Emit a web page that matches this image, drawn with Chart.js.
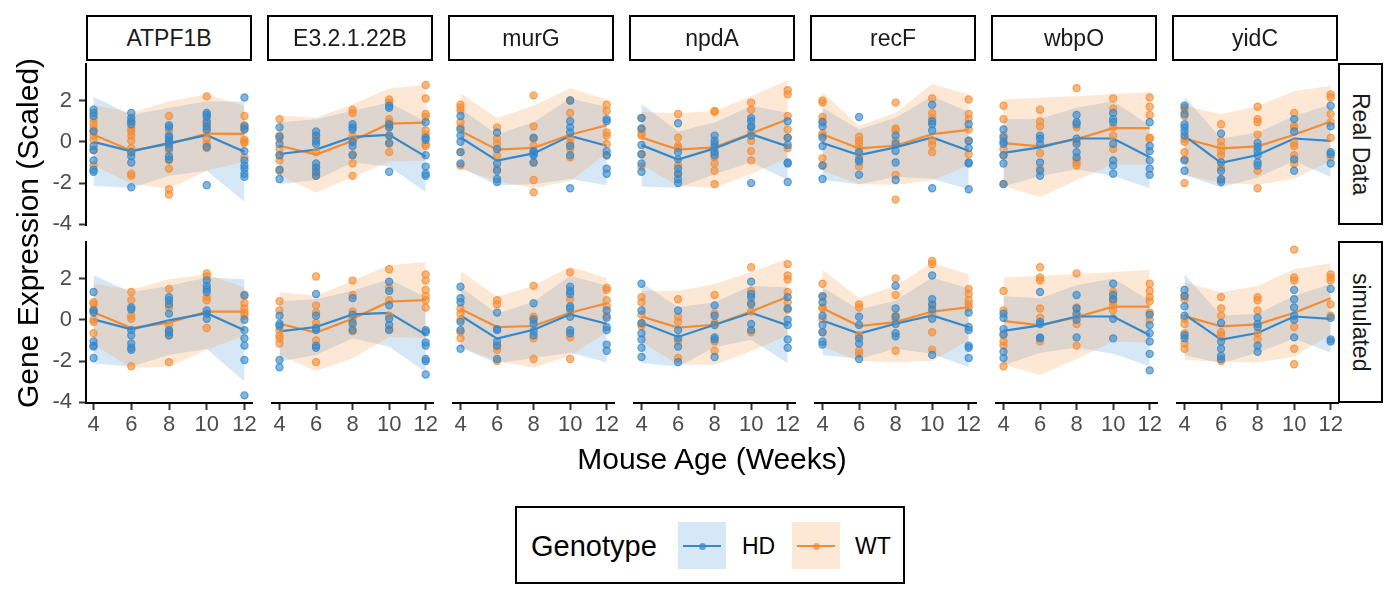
<!DOCTYPE html>
<html><head><meta charset="utf-8">
<script src="https://cdn.jsdelivr.net/npm/chart.js@4.4.1/dist/chart.umd.min.js"></script>
<style>
html,body{margin:0;padding:0;background:#fff;}
body{width:1400px;height:600px;position:relative;overflow:hidden;font-family:"Liberation Sans",Arial,Helvetica,sans-serif;}
canvas{position:absolute;}
.strip{position:absolute;box-sizing:border-box;border:2px solid #000;background:#fff;display:flex;align-items:center;justify-content:center;font-size:23px;color:#1a1a1a;}
.vtext{writing-mode:vertical-rl;}
.title{position:absolute;font-size:30px;color:#000;text-align:center;white-space:nowrap;}
#legend{position:absolute;left:515px;top:506px;width:390px;height:78px;box-sizing:border-box;border:2px solid #000;background:#fff;}
#legend div{position:absolute;}
</style></head><body>
<script>
// ---------------- data ----------------
const genes = ["ATPF1B", "E3.2.1.22B", "murG", "npdA", "recF", "wbpO", "yidC"];
const rowLabels = ["Real Data", "simulated"];
const genotypes = ["HD", "WT"];
const ages = [4, 6, 8, 10, 12];
const xTicks = [4, 6, 8, 10, 12];
const yTicks = [-4, -2, 0, 2];
const xTitle = "Mouse Age (Weeks)";
const yTitle = "Gene Expression (Scaled)";
const legendTitle = "Genotype";

// ---- Real Data ----
const ATPF1B_real_HD = [[1.55,1.4,1.25,0.5,-0.2,-0.4,-0.9,-1.35,-1.45],[1.4,1.15,1.0,0.85,-0.5,-0.7,-1.0,-2.2],[0.8,0.7,0.3,0.2,0.05,-0.1,-0.3,-0.7,-0.85],[1.4,1.3,1.2,0.95,0.75,0.6,-0.25,-2.1],[2.15,0.75,0.6,-0.45,-0.9,-1.15,-1.3,-1.55,-1.7]];
const ATPF1B_real_HD_mean = [0.0,-0.46,-0.06,0.32,-0.48];
const ATPF1B_real_HD_lo = [-2.14,-2.24,-1.65,-1.4,-2.9];
const ATPF1B_real_HD_hi = [2.18,1.3,1.65,1.97,1.94];
const ATPF1B_real_WT = [[1.1,0.9,0.7,0.55,0.3,0.1,-0.4,-1.15],[0.95,0.65,0.5,0.3,0.05,-0.3,-0.5,-1.55,-1.65],[1.25,0.55,-0.1,-0.45,-0.9,-1.3,-2.3,-2.55],[2.2,1.0,0.85,0.55,0.15,-0.1,-0.3],[1.25,0.8,0.65,0.1,0.0,-0.05,-0.75]];
const ATPF1B_real_WT_mean = [0.34,-0.43,-0.11,0.4,0.38];
const ATPF1B_real_WT_lo = [-1.15,-2.03,-2.27,-1.4,-0.95];
const ATPF1B_real_WT_hi = [1.8,1.41,1.97,2.29,1.73];

const E3_real_HD = [[0.7,0.25,-0.1,-0.65,-1.35,-1.8],[0.5,0.3,0.05,-0.1,-1.05,-1.25,-1.45,-1.65],[0.85,0.7,0.6,0.0,-0.2,-0.65],[1.75,1.65,0.85,0.7,0.3,-0.05,-1.45],[0.95,0.2,0.1,-0.65,-1.2,-1.55,-1.65]];
const E3_real_HD_mean = [-0.59,-0.38,0.24,0.34,-0.72];
const E3_real_HD_lo = [-2.05,-1.85,-1.0,-1.2,-2.43];
const E3_real_HD_hi = [0.93,1.09,1.5,1.9,0.99];
const E3_real_WT = [[1.1,0.3,0.15,-0.35,-0.65,-0.9,-1.4],[0.3,0.15,-0.5,-1.25,-1.5,-1.65],[1.55,1.4,0.3,0.0,-0.6,-1.05,-1.65],[2.05,1.9,1.1,0.95,0.7,0.3,-0.1,-0.5],[2.75,2.1,1.35,1.2,0.55,0.35,-0.1,-0.2]];
const E3_real_WT_mean = [-0.19,-0.62,0.05,0.88,0.93];
const E3_real_WT_lo = [-1.63,-2.46,-1.71,-0.96,-0.91];
const E3_real_WT_hi = [1.28,1.17,1.81,2.58,2.77];

const murG_real_HD = [[1.25,0.6,0.3,0.0,-0.5,-1.05],[0.45,-0.35,-1.05,-1.4,-1.8,-1.95],[0.2,-0.45,-0.5,-0.6,-0.65,-1.0],[2.0,1.0,0.7,0.45,-0.2,-0.65,-2.25],[1.1,1.0,-0.45,-0.65,-1.3,-1.55]];
const murG_real_HD_mean = [0.21,-0.91,-0.56,0.29,-0.19];
const murG_real_HD_lo = [-1.25,-2.1,-2.05,-1.8,-2.1];
const murG_real_HD_hi = [1.6,0.35,0.95,2.1,1.7];
const murG_real_WT = [[1.8,1.65,1.5,0.95,0.7,-0.5,-1.15],[0.7,0.15,-0.1,-0.65,-1.3],[2.25,0.75,0.15,-0.2,-1.0,-1.85,-2.45],[2.0,1.4,0.2,-0.05,-0.35,-0.75],[1.8,1.5,0.45,0.3,-0.1,-0.65]];
const murG_real_WT_mean = [0.53,-0.38,-0.29,0.34,0.8];
const murG_real_WT_lo = [-1.3,-1.9,-2.25,-1.9,-0.55];
const murG_real_WT_hi = [2.35,1.15,1.75,2.6,2.05];

const npdA_real_HD = [[1.15,0.65,-0.15,-0.6,-1.05,-1.45],[0.9,-0.5,-0.85,-1.3,-1.55,-1.8,-2.0],[0.3,0.05,-0.1,-0.25,-0.5,-0.65],[1.15,1.0,0.75,0.7,0.3,-2.0],[1.0,0.2,-0.15,-1.0,-1.05,-1.95]];
const npdA_real_HD_mean = [-0.16,-0.86,-0.32,0.37,-0.22];
const npdA_real_HD_lo = [-2.16,-2.22,-1.57,-0.99,-1.85];
const npdA_real_HD_hi = [1.84,0.5,0.93,1.73,1.41];
const npdA_real_WT = [[1.15,0.6,0.4,0.3,-0.6,-1.2],[1.35,0.2,-0.2,-0.3,-1.15,-1.55],[1.5,1.45,-0.5,-0.75,-1.05,-1.4,-2.05],[1.9,1.55,0.45,0.05,-0.45,-0.9],[2.5,2.3,1.25,0.6,0.2,-0.3]];
const npdA_real_WT_mean = [0.21,-0.38,-0.27,0.4,1.09];
const npdA_real_WT_lo = [-1.1,-2.14,-2.24,-1.55,-0.8];
const npdA_real_WT_hi = [1.44,1.38,1.49,2.21,2.98];

const recF_real_HD = [[0.95,0.75,0.2,-0.2,-1.15,-1.8],[1.2,-0.5,-0.85,-0.95,-1.6],[0.3,-0.1,-0.45,-1.0,-1.85],[1.8,1.0,0.85,0.55,-2.25],[0.85,0.05,-0.3,-1.0,-1.05,-2.3]];
const recF_real_HD_mean = [-0.06,-0.64,-0.27,0.21,-0.43];
const recF_real_HD_lo = [-1.85,-2.05,-1.71,-1.79,-2.3];
const recF_real_HD_hi = [1.65,0.6,1.17,2.21,1.45];
const recF_real_WT = [[2.0,1.9,1.2,1.0,0.4,0.3,-0.8,-1.15],[0.25,0.05,-0.1,-0.35,-0.65,-1.2],[1.9,0.65,0.55,0.05,-1.6,-2.8],[2.1,1.4,1.15,0.05,-0.15,-0.5],[2.05,1.35,1.1,0.6,0.05,-0.6]];
const recF_real_WT_mean = [0.37,-0.32,-0.19,0.37,0.58];
const recF_real_WT_lo = [-1.4,-2.05,-2.08,-1.87,-1.13];
const recF_real_WT_hi = [2.4,0.77,1.41,2.8,2.29];

const wbpO_real_HD = [[0.6,0.2,0.0,-0.1,-0.65,-1.05,-2.05],[0.3,0.15,-0.1,-1.0,-1.4,-1.65],[1.3,0.95,0.85,0.15,-0.1,-0.5,-0.75],[1.4,1.1,0.95,-0.1,-0.9,-1.15,-1.55],[0.95,-0.2,-0.45,-0.9,-1.3,-1.6]];
const wbpO_real_HD_mean = [-0.54,-0.27,0.16,0.16,-0.75];
const wbpO_real_HD_lo = [-2.17,-1.66,-1.33,-1.65,-2.25];
const wbpO_real_HD_hi = [1.09,1.12,1.65,1.97,0.8];
const wbpO_real_WT = [[1.75,1.1,0.3,-0.35,-0.65,-2.05],[1.55,1.0,0.75,-0.55,-1.3],[2.6,0.7,0.0,-0.85,-1.0,-1.15],[2.1,1.6,0.7,0.3,-0.35],[2.15,1.7,1.3,0.2,0.15]];
const wbpO_real_WT_mean = [-0.06,-0.22,0.13,0.66,0.66];
const wbpO_real_WT_lo = [-2.14,-2.67,-1.87,-1.07,-1.12];
const wbpO_real_WT_hi = [2.05,2.13,2.21,2.32,2.4];

const yidC_real_HD = [[1.75,1.35,0.85,0.7,0.5,0.3,-0.9,-1.4],[0.4,-1.0,-1.4,-1.8,-1.95],[-0.05,-0.25,-0.45,-0.65,-1.0,-1.15],[1.1,0.5,-0.85,-1.4],[1.75,0.75,-0.5,-0.6,-1.05]];
const yidC_real_HD_mean = [0.29,-1.02,-0.64,0.16,0.05];
const yidC_real_HD_lo = [-1.61,-2.2,-1.73,-0.93,-1.71];
const yidC_real_HD_hi = [2.2,0.16,0.45,1.25,1.81];
const yidC_real_WT = [[1.65,1.55,1.25,0.15,0.0,-0.5,-0.85,-2.0],[0.85,0.05,-0.2,-0.45,-0.65,-1.25,-1.85],[1.7,1.1,0.95,0.35,-1.4,-2.25],[1.4,0.75,0.7,-0.05,-0.2,-0.65,-1.05],[2.3,2.15,1.35,0.95,0.2,-0.75]];
const yidC_real_WT_mean = [0.16,-0.32,-0.22,0.34,0.98];
const yidC_real_WT_lo = [-1.6,-2.0,-2.08,-1.79,-0.9];
const yidC_real_WT_hi = [1.75,1.33,1.73,2.45,2.72];

// ---- simulated ----
const ATPF1B_sim_HD = [[1.35,0.45,0.35,-1.05,-1.25,-1.3,-1.85],[0.6,0.5,-0.5,-0.75,-1.15,-1.35,-1.45],[1.1,0.95,0.75,0.3,-0.5,-0.6,-0.75],[1.9,1.65,1.5,1.35,0.45,0.3,0.05],[1.2,0.0,-0.5,-0.9,-1.25,-1.95,-3.66]];
const ATPF1B_sim_HD_mean = [0.02,-0.46,-0.03,0.32,-0.51];
const ATPF1B_sim_HD_lo = [-2.12,-2.26,-1.7,-1.41,-2.99];
const ATPF1B_sim_HD_hi = [2.16,1.33,1.65,2.05,1.97];
const ATPF1B_sim_WT = [[0.85,0.75,0.5,0.0,-0.1,-0.65],[1.35,0.95,0.2,0.05,-2.25],[1.5,0.6,-0.25,-0.75,-2.05],[2.25,2.1,1.1,0.95,-0.4],[1.15,0.8,0.55,0.35,0.2]];
const ATPF1B_sim_WT_mean = [0.37,-0.4,-0.14,0.4,0.4];
const ATPF1B_sim_WT_lo = [-1.2,-2.32,-2.27,-1.45,-0.75];
const ATPF1B_sim_WT_hi = [1.76,1.46,1.97,2.21,1.57];

const E3_sim_HD = [[0.2,-0.2,-0.3,-1.95,-2.3],[1.25,0.2,-0.4,-0.5,-1.25,-1.35],[1.05,0.25,-0.15,-0.5],[1.85,1.4,0.7,0.05,-0.25,-0.5],[-0.5,-0.6,-1.1,-1.25,-1.9,-2.0,-2.65]];
const E3_sim_HD_mean = [-0.56,-0.35,0.26,0.34,-0.72];
const E3_sim_HD_lo = [-2.02,-1.7,-0.89,-1.3,-2.53];
const E3_sim_HD_hi = [0.9,1.0,1.41,1.97,1.09];
const E3_sim_WT = [[0.9,0.45,-0.5,-0.75,-0.9,-1.15],[2.1,0.7,0.35,-0.15,-1.0,-2.05],[1.9,1.2,0.4,0.05,-0.25,-0.55],[2.45,1.55,0.95,0.2,-0.45],[2.2,1.9,1.45,1.15,0.95,0.6]];
const E3_sim_WT_mean = [-0.19,-0.62,0.05,0.88,0.96];
const E3_sim_WT_lo = [-1.71,-2.48,-1.87,-0.83,-0.88];
const E3_sim_WT_hi = [1.33,1.17,1.89,2.64,2.8];

const murG_sim_HD = [[1.6,1.05,0.85,-0.1,-0.5,-1.4],[0.35,-0.45,-0.5,-1.05,-1.25,-1.9],[0.8,0.0,-0.2,-0.55,-0.75],[1.6,1.4,1.25,0.65,0.55,0.15,-0.5,-0.65],[0.45,0.1,-0.35,-0.5,-1.2,-1.5]];
const murG_sim_HD_mean = [0.21,-0.91,-0.48,0.26,-0.19];
const murG_sim_HD_lo = [-1.35,-2.1,-1.85,-1.6,-2.05];
const murG_sim_HD_hi = [1.6,0.29,0.88,2.13,1.65];
const murG_sim_WT = [[0.55,0.3,0.0,-0.6,-0.9],[0.95,0.75,-1.3,-1.45,-2.0],[1.65,0.15,0.05,-0.9,-1.9],[2.3,1.0,0.35,-0.85,-1.9],[1.55,1.45,0.95,0.65,0.2]];
const murG_sim_WT_mean = [0.53,-0.35,-0.3,0.34,0.8];
const murG_sim_WT_lo = [-1.31,-2.0,-2.32,-1.74,-0.6];
const murG_sim_WT_hi = [2.37,1.12,1.65,2.58,2.02];

const npdA_sim_HD = [[1.75,0.45,-0.15,-0.65,-0.95,-1.35,-1.8],[0.45,-0.5,-0.9,-1.3,-2.05],[0.7,0.2,-0.25,-0.85,-0.95,-1.8],[1.85,1.25,1.1,0.75,-0.2,-0.5],[1.1,0.55,0.0,-0.25,-0.95,-1.35]];
const npdA_sim_HD_mean = [-0.14,-0.83,-0.24,0.34,-0.27];
const npdA_sim_HD_lo = [-2.09,-2.27,-1.33,-0.97,-2.11];
const npdA_sim_HD_hi = [1.81,0.61,0.85,1.65,1.57];
const npdA_sim_WT = [[1.1,0.85,0.25,-0.2,-0.3],[1.0,0.15,-0.1,-1.05,-1.85],[1.2,0.3,-0.15,-1.05,-1.5],[2.55,1.4,0.85,0.4,-0.6],[2.7,2.15,1.95,1.35,0.85,0.5]];
const npdA_sim_WT_mean = [0.16,-0.38,-0.24,0.4,1.12];
const npdA_sim_WT_lo = [-1.07,-2.16,-2.19,-1.52,-0.75];
const npdA_sim_WT_hi = [1.41,1.41,1.73,2.32,2.96];

const recF_sim_HD = [[1.15,0.85,0.2,-0.25,-0.6,-1.05,-1.2],[0.15,-0.25,-0.9,-1.15,-1.9],[1.65,0.55,0.15,-0.2,-0.65,-0.8],[2.15,1.0,0.75,0.5,0.05,-1.7],[0.35,-0.35,-0.5,-1.25,-1.35,-1.85]];
const recF_sim_HD_mean = [-0.03,-0.67,-0.19,0.21,-0.35];
const recF_sim_HD_lo = [-1.7,-1.9,-1.4,-1.65,-2.3];
const recF_sim_HD_hi = [1.57,0.5,0.93,2.05,1.52];
const recF_sim_WT = [[1.75,1.1,0.6,0.55,0.05,-0.6],[0.75,0.6,-0.75,-1.5,-1.65],[2.0,1.2,0.2,0.0,-1.5],[2.85,2.7,0.7,0.3,-0.6,-1.45],[1.5,1.25,0.95,0.75,0.6]];
const recF_sim_WT_mean = [0.56,-0.3,-0.11,0.4,0.61];
const recF_sim_WT_lo = [-1.3,-2.0,-2.06,-2.0,-0.99];
const recF_sim_WT_hi = [2.42,1.06,1.65,2.77,2.21];

const wbpO_sim_HD = [[0.3,0.1,-0.45,-0.7,-1.55,-1.85],[1.35,-0.1,-0.2,-0.85,-0.9],[1.2,0.55,0.3,0.0,-0.85],[1.75,1.2,1.0,0.05,-0.9],[0.25,-0.25,-0.65,-1.05,-1.65,-2.45]];
const wbpO_sim_HD_mean = [-0.54,-0.27,0.16,0.16,-0.75];
const wbpO_sim_HD_lo = [-2.2,-1.6,-1.35,-1.65,-2.25];
const wbpO_sim_HD_hi = [1.14,1.04,1.68,2.0,0.93];
const wbpO_sim_WT = [[1.4,0.45,-0.75,-1.05,-1.25,-2.25],[2.55,2.05,1.9,0.55,0.1,-1.05],[2.25,0.6,0.2,-0.2,-1.25],[1.35,1.0,0.9,0.7,0.45],[1.75,1.4,1.1,0.9,0.35,0.0]];
const wbpO_sim_WT_mean = [-0.05,-0.27,0.13,0.64,0.64];
const wbpO_sim_WT_lo = [-2.16,-2.67,-1.9,-1.04,-1.1];
const wbpO_sim_WT_hi = [2.05,2.13,2.21,2.32,2.42];

const yidC_sim_HD = [[1.45,1.15,0.65,0.2,-0.75,-0.9],[-0.15,-1.05,-1.4,-1.75,-1.9],[0.1,-0.2,-0.35,-1.25,-1.55],[1.45,1.0,0.6,0.2,0.0,-0.85],[1.5,0.1,-0.95,-1.05]];
const yidC_sim_HD_mean = [0.26,-0.96,-0.64,0.16,0.05];
const yidC_sim_HD_lo = [-1.7,-2.1,-1.6,-0.9,-1.6];
const yidC_sim_HD_hi = [2.21,0.21,0.29,1.17,1.73];
const yidC_sim_WT = [[1.15,1.0,0.05,-0.2,-0.65,-1.15,-1.4],[1.1,0.55,0.2,-0.6,-0.75,-2.0],[1.1,0.95,0.45,-0.65,-0.95],[3.4,2.05,1.9,-0.35,-1.4,-2.15],[2.2,2.05,1.9,0.75,0.2]];
const yidC_sim_WT_mean = [0.18,-0.32,-0.22,0.34,1.04];
const yidC_sim_WT_lo = [-1.95,-2.03,-2.06,-1.79,-0.7];
const yidC_sim_WT_hi = [1.81,1.33,1.65,2.45,2.74];

// lookup table built from the named arrays above
const G = (pts, mean, lo, hi) => ({pts, mean, lo, hi});
const panels = [
  [ // Real Data
    {HD: G(ATPF1B_real_HD, ATPF1B_real_HD_mean, ATPF1B_real_HD_lo, ATPF1B_real_HD_hi), WT: G(ATPF1B_real_WT, ATPF1B_real_WT_mean, ATPF1B_real_WT_lo, ATPF1B_real_WT_hi)},
    {HD: G(E3_real_HD, E3_real_HD_mean, E3_real_HD_lo, E3_real_HD_hi), WT: G(E3_real_WT, E3_real_WT_mean, E3_real_WT_lo, E3_real_WT_hi)},
    {HD: G(murG_real_HD, murG_real_HD_mean, murG_real_HD_lo, murG_real_HD_hi), WT: G(murG_real_WT, murG_real_WT_mean, murG_real_WT_lo, murG_real_WT_hi)},
    {HD: G(npdA_real_HD, npdA_real_HD_mean, npdA_real_HD_lo, npdA_real_HD_hi), WT: G(npdA_real_WT, npdA_real_WT_mean, npdA_real_WT_lo, npdA_real_WT_hi)},
    {HD: G(recF_real_HD, recF_real_HD_mean, recF_real_HD_lo, recF_real_HD_hi), WT: G(recF_real_WT, recF_real_WT_mean, recF_real_WT_lo, recF_real_WT_hi)},
    {HD: G(wbpO_real_HD, wbpO_real_HD_mean, wbpO_real_HD_lo, wbpO_real_HD_hi), WT: G(wbpO_real_WT, wbpO_real_WT_mean, wbpO_real_WT_lo, wbpO_real_WT_hi)},
    {HD: G(yidC_real_HD, yidC_real_HD_mean, yidC_real_HD_lo, yidC_real_HD_hi), WT: G(yidC_real_WT, yidC_real_WT_mean, yidC_real_WT_lo, yidC_real_WT_hi)}
  ],
  [ // simulated
    {HD: G(ATPF1B_sim_HD, ATPF1B_sim_HD_mean, ATPF1B_sim_HD_lo, ATPF1B_sim_HD_hi), WT: G(ATPF1B_sim_WT, ATPF1B_sim_WT_mean, ATPF1B_sim_WT_lo, ATPF1B_sim_WT_hi)},
    {HD: G(E3_sim_HD, E3_sim_HD_mean, E3_sim_HD_lo, E3_sim_HD_hi), WT: G(E3_sim_WT, E3_sim_WT_mean, E3_sim_WT_lo, E3_sim_WT_hi)},
    {HD: G(murG_sim_HD, murG_sim_HD_mean, murG_sim_HD_lo, murG_sim_HD_hi), WT: G(murG_sim_WT, murG_sim_WT_mean, murG_sim_WT_lo, murG_sim_WT_hi)},
    {HD: G(npdA_sim_HD, npdA_sim_HD_mean, npdA_sim_HD_lo, npdA_sim_HD_hi), WT: G(npdA_sim_WT, npdA_sim_WT_mean, npdA_sim_WT_lo, npdA_sim_WT_hi)},
    {HD: G(recF_sim_HD, recF_sim_HD_mean, recF_sim_HD_lo, recF_sim_HD_hi), WT: G(recF_sim_WT, recF_sim_WT_mean, recF_sim_WT_lo, recF_sim_WT_hi)},
    {HD: G(wbpO_sim_HD, wbpO_sim_HD_mean, wbpO_sim_HD_lo, wbpO_sim_HD_hi), WT: G(wbpO_sim_WT, wbpO_sim_WT_mean, wbpO_sim_WT_lo, wbpO_sim_WT_hi)},
    {HD: G(yidC_sim_HD, yidC_sim_HD_mean, yidC_sim_HD_lo, yidC_sim_HD_hi), WT: G(yidC_sim_WT, yidC_sim_WT_mean, yidC_sim_WT_lo, yidC_sim_WT_hi)}
  ]
];

// ---------------- styling / layout ----------------
const FONT = '"Liberation Sans", Arial, Helvetica, sans-serif';
const COLORS = {HD: [52, 136, 204], WT: [245, 140, 50]};
const rgba = (c, a) => `rgba(${c[0]},${c[1]},${c[2]},${a})`;
const X_MIN = 3.6, X_MAX = 12.4, Y_MIN = -4.03, Y_MAX = 3.76;
const PANEL_LEFT = [86, 267, 448, 629, 810, 991, 1172];
const PANEL_W = 166;
const PANEL_TOP = [63, 241];
const PANEL_H = 162;
const TICK_FONT = 22;

function makePanel(r, c) {
  const ML = c === 0 ? 86 : 0;
  const MB = r === 1 ? 44 : 0;
  const PR = 16, PT = 4, PB = r === 0 ? 16 : 0;
  const cv = document.createElement('canvas');
  const W = ML + PANEL_W + PR, H = PT + PANEL_H + MB + PB;
  cv.width = W; cv.height = H;
  cv.style.left = (PANEL_LEFT[c] - ML) + 'px';
  cv.style.top = (PANEL_TOP[r] - PT) + 'px';
  cv.style.width = W + 'px'; cv.style.height = H + 'px';
  document.body.appendChild(cv);

  const p = panels[r][c];
  const datasets = [];
  // ribbons (HD first, WT drawn over it)
  genotypes.forEach((g, gi) => {
    const col = COLORS[g];
    datasets.push({label: g + ' lo', data: ages.map((a, i) => ({x: a, y: p[g].lo[i]})), borderWidth: 0, pointRadius: 0, fill: false, order: 5 - gi});
    datasets.push({label: g + ' band', data: ages.map((a, i) => ({x: a, y: p[g].hi[i]})), borderWidth: 0, pointRadius: 0, fill: '-1', backgroundColor: rgba(col, 0.2), order: 5 - gi});
  });
  // mean lines
  genotypes.forEach((g, gi) => {
    const col = COLORS[g];
    datasets.push({label: g + ' mean', data: ages.map((a, i) => ({x: a, y: p[g].mean[i]})), borderColor: rgba(col, 1), borderWidth: 2.2, pointRadius: 0, fill: false, tension: 0, order: 2});
  });
  // points
  genotypes.forEach((g, gi) => {
    const col = COLORS[g];
    const pts = [];
    ages.forEach((a, i) => p[g].pts[i].forEach(v => pts.push({x: a, y: v})));
    datasets.push({label: g, data: pts, showLine: false, pointRadius: 3.6, pointBorderWidth: 1.2, pointBackgroundColor: rgba(col, 0.62), pointBorderColor: rgba(col, 0.75), order: gi === 0 ? 0 : 1});
  });

  const tickGrid = {display: true, drawOnChartArea: false, drawTicks: true, tickLength: 7, tickColor: '#333333', tickWidth: 2};
  new Chart(cv, {
    type: 'line',
    data: {datasets},
    options: {
      responsive: false, animation: false, devicePixelRatio: 1,
      layout: {padding: {left: 0, right: PR, top: PT, bottom: PB}},
      plugins: {legend: {display: false}, tooltip: {enabled: false}},
      scales: {
        x: {
          type: 'linear', min: X_MIN, max: X_MAX, display: r === 1,
          afterBuildTicks: s => { s.ticks = xTicks.map(v => ({value: v})); },
          grid: tickGrid,
          border: {display: true, color: '#000000', width: 2},
          ticks: {color: '#4d4d4d', font: {size: TICK_FONT, family: FONT}, padding: 2, autoSkip: false, maxRotation: 0, callback: v => String(v)},
          afterFit: s => { s.height = MB; s.paddingLeft = 0; s.paddingRight = 0; }
        },
        y: {
          type: 'linear', min: Y_MIN, max: Y_MAX, display: c === 0,
          afterBuildTicks: s => { s.ticks = yTicks.map(v => ({value: v})); },
          grid: tickGrid,
          border: {display: true, color: '#000000', width: 2},
          ticks: {color: '#4d4d4d', font: {size: TICK_FONT, family: FONT}, padding: 7, callback: v => String(v)},
          afterFit: s => { s.width = ML; s.paddingTop = 0; s.paddingBottom = 0; }
        }
      }
    }
  });
}

for (let r = 0; r < 2; r++) for (let c = 0; c < 7; c++) makePanel(r, c);

// strips
genes.forEach((g, c) => {
  const d = document.createElement('div');
  d.className = 'strip';
  d.style.left = PANEL_LEFT[c] + 'px'; d.style.top = '15px';
  d.style.width = PANEL_W + 'px'; d.style.height = '46px';
  d.textContent = g;
  document.body.appendChild(d);
});
rowLabels.forEach((t, r) => {
  const d = document.createElement('div');
  d.className = 'strip';
  d.style.left = (PANEL_LEFT[6] + PANEL_W) + 'px'; d.style.top = PANEL_TOP[r] + 'px';
  d.style.width = '45px'; d.style.height = PANEL_H + 'px';
  const s = document.createElement('span'); s.className = 'vtext'; s.textContent = t;
  d.appendChild(s);
  document.body.appendChild(d);
});

// axis titles
const xt = document.createElement('div');
xt.className = 'title'; xt.textContent = xTitle;
xt.style.left = '412px'; xt.style.width = '600px'; xt.style.top = '442px'; xt.style.height = '34px'; xt.style.lineHeight = '34px';
document.body.appendChild(xt);
const yt = document.createElement('div');
yt.className = 'title'; yt.textContent = yTitle;
yt.style.left = (28 - 220) + 'px'; yt.style.width = '440px'; yt.style.top = (233 - 17) + 'px'; yt.style.height = '34px'; yt.style.lineHeight = '34px';
yt.style.transform = 'rotate(-90deg)';
document.body.appendChild(yt);

// legend
const lg = document.createElement('div'); lg.id = 'legend';
const lt = document.createElement('div');
lt.textContent = legendTitle; lt.style.left = '14px'; lt.style.top = '21px'; lt.style.fontSize = '29px'; lt.style.lineHeight = '34px'; lt.style.color = '#000';
lg.appendChild(lt);
const keyX = {HD: 161, WT: 275}, labX = {HD: 225, WT: 338};
genotypes.forEach(g => {
  const col = COLORS[g];
  const k = document.createElement('div');
  k.style.left = keyX[g] + 'px'; k.style.top = '14px'; k.style.width = '48px'; k.style.height = '47px';
  k.style.background = rgba(col, 0.2);
  const ln = document.createElement('div');
  ln.style.left = '5px'; ln.style.top = '23px'; ln.style.width = '38px'; ln.style.height = '2px'; ln.style.background = rgba(col, 1);
  const dot = document.createElement('div');
  dot.style.left = '20.5px'; dot.style.top = '20.5px'; dot.style.width = '7px'; dot.style.height = '7px'; dot.style.borderRadius = '50%'; dot.style.background = rgba(col, 0.75);
  k.appendChild(ln); k.appendChild(dot);
  lg.appendChild(k);
  const lb = document.createElement('div');
  lb.textContent = g; lb.style.left = labX[g] + 'px'; lb.style.top = '21px'; lb.style.fontSize = '23px'; lb.style.lineHeight = '34px'; lb.style.color = '#000';
  lg.appendChild(lb);
});
document.body.appendChild(lg);
</script>
</body></html>
